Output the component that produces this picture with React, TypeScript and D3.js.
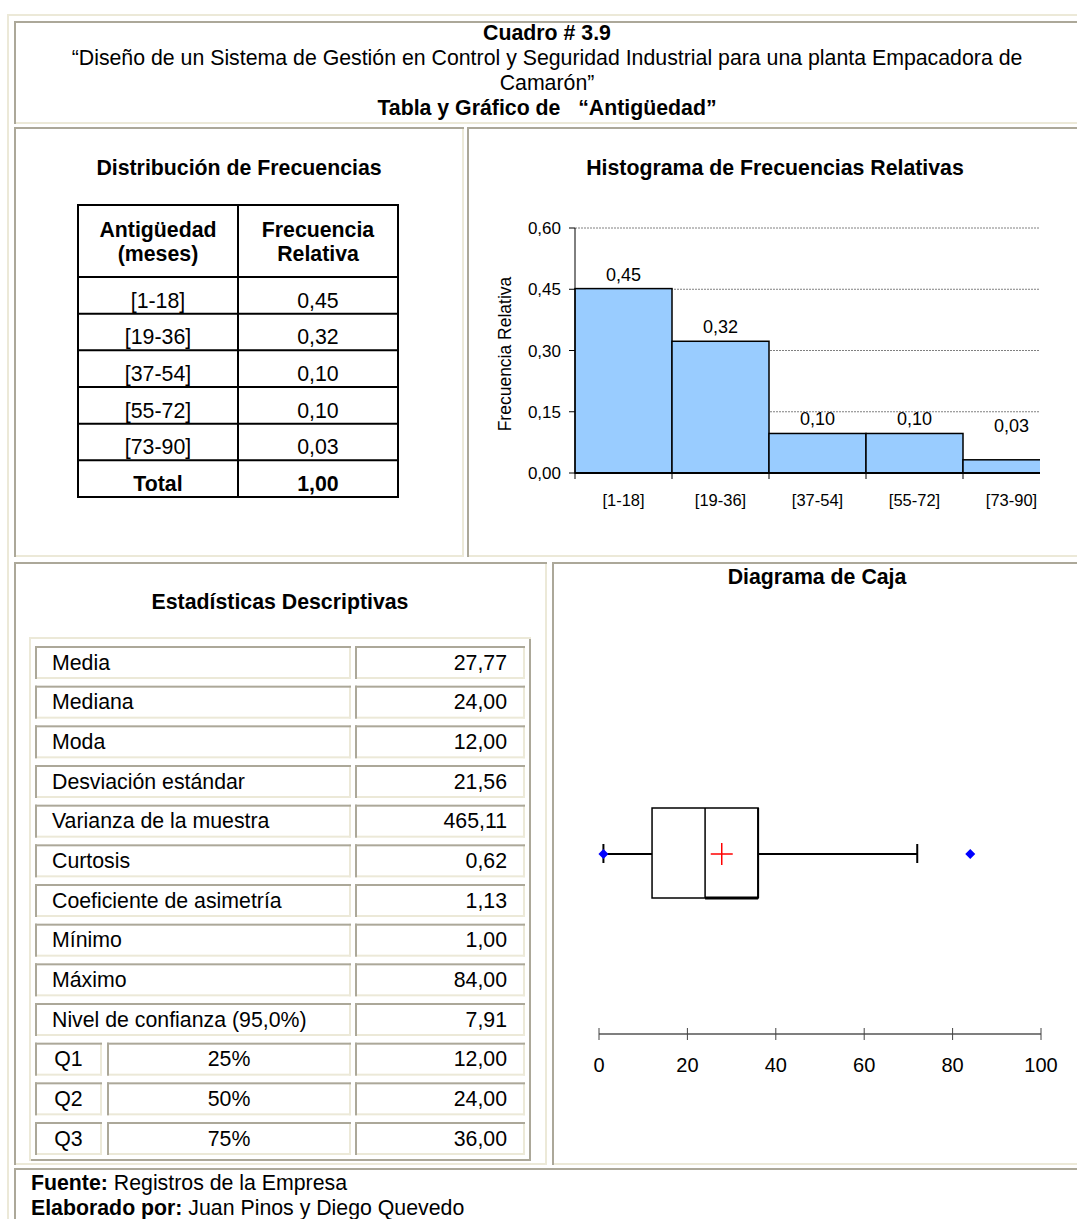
import * as React from 'react';
import * as d3 from 'd3';

// tabla de frecuencias / histograma
const classes = ['[1-18]', '[19-36]', '[37-54]', '[55-72]', '[73-90]'];
const relFreq = [0.4516, 0.3226, 0.0968, 0.0968, 0.0323];
const freqTicks = [0, 0.15, 0.3, 0.45, 0.6];

// estadisticas descriptivas
const statNames = [
    'Media', 'Mediana', 'Moda', 'Desviación estándar', 'Varianza de la muestra', 'Curtosis',
    'Coeficiente de asimetría', 'Mínimo', 'Máximo', 'Nivel de confianza (95,0%)'
];
const statValues = [27.77, 24, 12, 21.56, 465.11, 0.62, 1.13, 1, 84, 7.91];
const quartNames = ['Q1', 'Q2', 'Q3'];
const quartPcts = ['25%', '50%', '75%'];
const quartValues = [12, 24, 36];

// diagrama de caja
const boxMin = 1;
const boxQ1 = 12;
const boxMedian = 24;
const boxQ3 = 36;
const boxMean = 27.77;
const boxWhiskerHi = 72;
const boxMax = 84;
const boxTicks = [0, 20, 40, 60, 80, 100];

const headerLines = [
    'Cuadro # 3.9',
    '“Diseño de un Sistema de Gestión en Control y Seguridad Industrial para una planta Empacadora de',
    'Camarón”',
    'Tabla y Gráfico de \u00a0 “Antigüedad”'
];

const FONT = "'Liberation Sans', Arial, sans-serif";
const LIGHT = '#ECE9D8';
const GRAY = '#ACA899';

const es = d3.formatLocale({ decimal: ',', thousands: '.', grouping: [3], currency: ['', ''] });
const f2 = es.format('.2f');

function Inset(p: { x: number, y: number, w: number, h: number }) {
    return <g>
        <rect x={p.x} y={p.y + p.h - 2} width={p.w} height={2} fill={LIGHT} />
        <rect x={p.x + p.w - 2} y={p.y} width={2} height={p.h} fill={LIGHT} />
        <rect x={p.x} y={p.y} width={p.w} height={2} fill={GRAY} />
        <rect x={p.x} y={p.y} width={2} height={p.h} fill={GRAY} />
    </g>;
}

function Outset(p: { x: number, y: number, w: number, h: number }) {
    return <g>
        <rect x={p.x} y={p.y + p.h - 2} width={p.w} height={2} fill={GRAY} />
        <rect x={p.x + p.w - 2} y={p.y} width={2} height={p.h} fill={GRAY} />
        <rect x={p.x} y={p.y} width={p.w} height={2} fill={LIGHT} />
        <rect x={p.x} y={p.y} width={2} height={p.h} fill={LIGHT} />
    </g>;
}

function FreqTable() {
    const x0 = 78, x1 = 238, x2 = 398;
    const top = 205, headBottom = 277, bottom = 497;
    const rowH = (bottom - headBottom) / (classes.length + 1);
    const total = d3.sum(relFreq);
    const rows = classes.map((c, i) => ({ c, v: f2(relFreq[i]) }));
    return <g fontFamily={FONT} fontSize={21.3} textAnchor="middle" fill="#000">
        <rect x={x0} y={top} width={x2 - x0} height={bottom - top} fill="none" stroke="#000" strokeWidth={2} />
        <line x1={x1} x2={x1} y1={top} y2={bottom} stroke="#000" strokeWidth={2} />
        <line x1={x0} x2={x2} y1={headBottom} y2={headBottom} stroke="#000" strokeWidth={2} />
        <text x={(x0 + x1) / 2} y={237} fontWeight="bold">Antigüedad</text>
        <text x={(x0 + x1) / 2} y={261} fontWeight="bold">(meses)</text>
        <text x={(x1 + x2) / 2} y={237} fontWeight="bold">Frecuencia</text>
        <text x={(x1 + x2) / 2} y={261} fontWeight="bold">Relativa</text>
        {rows.map((r, i) => {
            const yb = headBottom + rowH * (i + 1);
            return <g key={i}>
                <line x1={x0} x2={x2} y1={yb} y2={yb} stroke="#000" strokeWidth={2} />
                <text x={(x0 + x1) / 2} y={yb - 6}>{r.c}</text>
                <text x={(x1 + x2) / 2} y={yb - 6}>{r.v}</text>
            </g>;
        })}
        <text x={(x0 + x1) / 2} y={bottom - 6} fontWeight="bold">Total</text>
        <text x={(x1 + x2) / 2} y={bottom - 6} fontWeight="bold">{f2(total)}</text>
    </g>;
}

function Histogram() {
    const hx = d3.scaleBand<string>().domain(classes).range([575, 1060]);
    const hy = d3.scaleLinear().domain([0, 0.6]).range([473, 228]);
    const clipRight = 1040;
    // etiqueta encima de la barra, sin bajar de la linea de 0,15
    const labelY = (v: number) => Math.min(hy(v) - 8, hy(0.15) + 20);
    return <g fontFamily={FONT} fill="#000">
        <defs>
            <clipPath id="plotClip">
                <rect x={560} y={200} width={clipRight - 560} height={300} />
            </clipPath>
        </defs>
        <g clipPath="url(#plotClip)">
            {freqTicks.filter(t => t > 0).map(t =>
                <line key={t} x1={575} x2={clipRight} y1={hy(t)} y2={hy(t)}
                    stroke="#808080" strokeWidth={1} strokeDasharray="2,1" />
            )}
            {classes.map((c, i) =>
                <rect key={c} x={hx(c)} y={hy(relFreq[i])} width={hx.bandwidth()}
                    height={hy(0) - hy(relFreq[i])} fill="#99CCFF" stroke="#000" strokeWidth={1.5} />
            )}
            <line x1={575} x2={clipRight} y1={hy(0)} y2={hy(0)} stroke="#000" strokeWidth={2} />
            {classes.map((c, i) =>
                <text key={c} x={hx(c)! + hx.bandwidth() / 2} y={labelY(relFreq[i])}
                    fontSize={18} textAnchor="middle">{f2(relFreq[i])}</text>
            )}
        </g>
        <line x1={575} x2={575} y1={hy(0.6)} y2={hy(0)} stroke="#000" strokeWidth={1} />
        {freqTicks.map(t => <g key={t}>
            <line x1={569} x2={575} y1={hy(t)} y2={hy(t)} stroke="#000" strokeWidth={1} />
            <text x={561} y={hy(t) + 6} fontSize={17} textAnchor="end">{f2(t)}</text>
        </g>)}
        {classes.map(c => <g key={c}>
            <line x1={hx(c)} x2={hx(c)} y1={hy(0)} y2={hy(0) + 6} stroke="#000" strokeWidth={1} />
            <text x={hx(c)! + hx.bandwidth() / 2} y={506} fontSize={16.5} textAnchor="middle">{c}</text>
        </g>)}
        <text transform="translate(511,354) rotate(-90)" fontSize={17.5} textAnchor="middle">Frecuencia Relativa</text>
    </g>;
}

function StatsTable() {
    const pitch = (1122 - 646) / 12;
    const cellH = 33;
    return <g fontFamily={FONT} fontSize={21.3} fill="#000">
        <Outset x={29} y={637} w={502} h={524} />
        {statNames.map((n, i) => {
            const t = 646 + i * pitch;
            return <g key={n}>
                <Inset x={35} y={t} w={316} h={cellH} />
                <Inset x={355} y={t} w={170} h={cellH} />
                <text x={52} y={t + 23.5}>{n}</text>
                <text x={507} y={t + 23.5} textAnchor="end">{f2(statValues[i])}</text>
            </g>;
        })}
        {quartNames.map((q, i) => {
            const t = 646 + (statNames.length + i) * pitch;
            return <g key={q}>
                <Inset x={35} y={t} w={67} h={cellH} />
                <Inset x={107} y={t} w={244} h={cellH} />
                <Inset x={355} y={t} w={170} h={cellH} />
                <text x={68.5} y={t + 23.5} textAnchor="middle">{q}</text>
                <text x={229} y={t + 23.5} textAnchor="middle">{quartPcts[i]}</text>
                <text x={507} y={t + 23.5} textAnchor="end">{f2(quartValues[i])}</text>
            </g>;
        })}
    </g>;
}

function BoxPlot() {
    const bx = d3.scaleLinear().domain([0, 100]).range([599, 1041]);
    const cy = 854, top = 808, bottom = 898, axisY = 1034;
    const diamond = (v: number) => {
        const x = bx(v);
        return `M${x},${cy - 5}L${x + 5},${cy}L${x},${cy + 5}L${x - 5},${cy}Z`;
    };
    return <g fontFamily={FONT} fill="#000">
        <text x={817} y={584} fontSize={21.3} fontWeight="bold" textAnchor="middle">Diagrama de Caja</text>
        <line x1={bx(boxMin)} x2={bx(boxQ1)} y1={cy} y2={cy} stroke="#000" strokeWidth={2} />
        <line x1={bx(boxQ3)} x2={bx(boxWhiskerHi)} y1={cy} y2={cy} stroke="#000" strokeWidth={2} />
        <line x1={bx(boxMin)} x2={bx(boxMin)} y1={cy - 10} y2={cy + 9} stroke="#000" strokeWidth={2} />
        <line x1={bx(boxWhiskerHi)} x2={bx(boxWhiskerHi)} y1={cy - 10} y2={cy + 9} stroke="#000" strokeWidth={2} />
        <rect x={bx(boxQ1)} y={top} width={bx(boxQ3) - bx(boxQ1)} height={bottom - top}
            fill="none" stroke="#000" strokeWidth={1.5} />
        <line x1={bx(boxMedian)} x2={bx(boxMedian)} y1={top} y2={bottom} stroke="#000" strokeWidth={1.5} />
        <line x1={bx(boxMedian)} x2={bx(boxQ3)} y1={bottom} y2={bottom} stroke="#000" strokeWidth={3} />
        <line x1={bx(boxQ3)} x2={bx(boxQ3)} y1={top} y2={bottom} stroke="#000" strokeWidth={2} />
        <line x1={bx(boxMean) - 11} x2={bx(boxMean) + 11} y1={cy} y2={cy} stroke="#FF0000" strokeWidth={1.5} />
        <line x1={bx(boxMean)} x2={bx(boxMean)} y1={cy - 11} y2={cy + 11} stroke="#FF0000" strokeWidth={1.5} />
        <path d={diamond(boxMin)} fill="#0000FF" />
        <path d={diamond(boxMax)} fill="#0000FF" />
        <line x1={bx(0)} x2={bx(100)} y1={axisY} y2={axisY} stroke="#000" strokeWidth={1.2} />
        {boxTicks.map(t => <g key={t}>
            <line x1={bx(t)} x2={bx(t)} y1={axisY - 6} y2={axisY + 6} stroke="#444" strokeWidth={1} />
            <text x={bx(t)} y={1072} fontSize={20} textAnchor="middle">{t}</text>
        </g>)}
    </g>;
}

export default function App() {
    const W = 1077, H = 1219;
    return <svg width={W} height={H} style={{ position: 'absolute', left: 0, top: 0, background: '#fff' }}>
        <rect x={0} y={0} width={W} height={H} fill="#fff" />
        {/* marco exterior */}
        <rect x={7} y={14} width={W} height={2} fill={LIGHT} />
        <rect x={7} y={14} width={2} height={H} fill={LIGHT} />
        {/* celdas */}
        <Inset x={14} y={21} w={1069} h={103} />
        <Inset x={14} y={127} w={450} h={430} />
        <Inset x={467} y={127} w={616} h={430} />
        <Inset x={14} y={562} w={533} h={603} />
        <Inset x={552} y={562} w={531} h={603} />
        <Inset x={14} y={1168} w={1069} h={80} />

        <g fontFamily={FONT} fontSize={21.3} textAnchor="middle" fill="#000">
            {headerLines.map((l, i) =>
                <text key={i} x={547} y={40 + i * 25} fontWeight={i === 0 || i === 3 ? 'bold' : 'normal'}
                    style={{ whiteSpace: 'pre' }}>{l}</text>
            )}
            <text x={239} y={175} fontWeight="bold">Distribución de Frecuencias</text>
            <text x={775} y={175} fontWeight="bold">Histograma de Frecuencias Relativas</text>
            <text x={280} y={609} fontWeight="bold">Estadísticas Descriptivas</text>
        </g>

        <FreqTable />
        <Histogram />
        <StatsTable />
        <BoxPlot />

        <g fontFamily={FONT} fontSize={21.3} fill="#000">
            <text x={31} y={1190}><tspan fontWeight="bold">Fuente:</tspan> Registros de la Empresa</text>
            <text x={31} y={1215}><tspan fontWeight="bold">Elaborado por:</tspan> Juan Pinos y Diego Quevedo</text>
        </g>
    </svg>;
}
